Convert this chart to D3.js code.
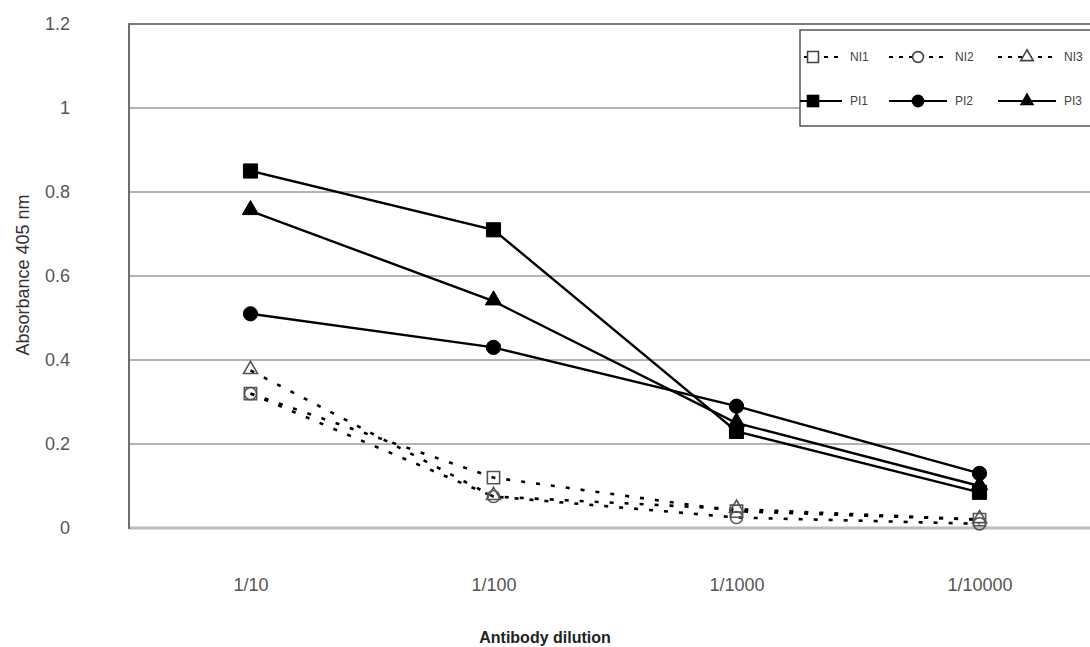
<!DOCTYPE html>
<html>
<head>
<meta charset="utf-8">
<script src="https://cdn.jsdelivr.net/npm/d3@7"></script>
<style>
  body { margin: 0; background: #fff; }
  text { font-family: "Liberation Sans", Arial, sans-serif; }
</style>
</head>
<body>
<script>
// dilutions on the x axis
var dilutions = ["1/10", "1/100", "1/1000", "1/10000"];
var yTicks = [0, 0.2, 0.4, 0.6, 0.8, 1, 1.2];

// absorbance readings, negative sera (dashed) and positive sera (solid)
var ni1 = [0.32, 0.12, 0.04, 0.02];
var ni2 = [0.32, 0.075, 0.025, 0.01];
var ni3 = [0.375, 0.075, 0.045, 0.02];
var pi1 = [0.85, 0.71, 0.23, 0.085];
var pi2 = [0.51, 0.43, 0.29, 0.13];
var pi3 = [0.755, 0.54, 0.25, 0.10];

var seriesNames = ["NI1", "NI2", "NI3", "PI1", "PI2", "PI3"];

var series = [
  {name: "NI1", values: ni1, shape: d3.symbolSquare, open: true},
  {name: "NI2", values: ni2, shape: d3.symbolCircle, open: true},
  {name: "NI3", values: ni3, shape: d3.symbolTriangle, open: true},
  {name: "PI1", values: pi1, shape: d3.symbolSquare, open: false},
  {name: "PI2", values: pi2, shape: d3.symbolCircle, open: false},
  {name: "PI3", values: pi3, shape: d3.symbolTriangle, open: false}
];

var width = 1090, height = 647;
var mLeft = 129, mTop = 24, mRight = 1101, mBottom = 528;

var svg = d3.select("body").append("svg").attr("width", width).attr("height", height);

var x = d3.scalePoint().domain(dilutions).range([mLeft, mRight]).padding(0.5);
var y = d3.scaleLinear().domain([0, 1.2]).range([mBottom, mTop]);

// gridlines
svg.append("g").selectAll("line.grid")
  .data(yTicks.filter(function(d){ return d > 0 && d < 1.2; }))
  .enter().append("line")
    .attr("class", "grid")
    .attr("x1", mLeft).attr("x2", width)
    .attr("y1", function(d){ return y(d); })
    .attr("y2", function(d){ return y(d); })
    .attr("stroke", "#b4b4b4")
    .attr("stroke-width", 2);

// frame
svg.append("line").attr("x1", mLeft).attr("x2", width).attr("y1", mTop).attr("y2", mTop)
  .attr("stroke", "#7a7a7a").attr("stroke-width", 2);
svg.append("line").attr("x1", mLeft).attr("x2", width).attr("y1", mBottom).attr("y2", mBottom)
  .attr("stroke", "#bdbdbd").attr("stroke-width", 3);
svg.append("line").attr("x1", mLeft).attr("x2", mLeft).attr("y1", mTop - 1).attr("y2", mBottom + 1)
  .attr("stroke", "#6e6e6e").attr("stroke-width", 2);

// y axis labels
var yAxis = d3.axisLeft(y).tickValues(yTicks).tickSize(0).tickPadding(0)
  .tickFormat(function(d){ return d3.format("")(d); });
var yg = svg.append("g").attr("transform", "translate(70,0)").call(yAxis);
yg.select(".domain").remove();
yg.selectAll("text").attr("font-size", 18).attr("fill", "#555").attr("font-family", "Liberation Sans, Arial, sans-serif");

// x axis labels
var xAxis = d3.axisBottom(x).tickSize(0).tickPadding(0);
var xg = svg.append("g").attr("transform", "translate(0,578)").call(xAxis);
xg.select(".domain").remove();
xg.selectAll("text").attr("font-size", 18).attr("fill", "#555").attr("font-family", "Liberation Sans, Arial, sans-serif");

// axis titles
svg.append("text")
  .attr("transform", "translate(29,275) rotate(-90)")
  .attr("text-anchor", "middle")
  .attr("font-size", 18)
  .attr("fill", "#333")
  .text("Absorbance 405 nm");

svg.append("text")
  .attr("x", 545).attr("y", 643)
  .attr("text-anchor", "middle")
  .attr("font-size", 16)
  .attr("font-weight", "bold")
  .attr("fill", "#222")
  .text("Antibody dilution");

// lines
var line = d3.line()
  .x(function(d, i){ return x(dilutions[i]); })
  .y(function(d){ return y(d); });

var plot = svg.append("g");

series.forEach(function(s) {
  plot.append("path")
    .attr("d", line(s.values))
    .attr("fill", "none")
    .attr("stroke", "#000")
    .attr("stroke-width", s.open ? 2.6 : 2.4)
    .attr("stroke-dasharray", s.open ? "4,11" : null);
});

function symbolSize(shape, open, legend) {
  var k = legend ? 0.8 : 1;
  if (shape === d3.symbolSquare) return (open ? 150 : 200) * k;
  if (shape === d3.symbolCircle) return (open ? 115 : 160) * k;
  return (open ? 85 : 115) * k;
}

series.forEach(function(s) {
  plot.selectAll("path.m" + s.name)
    .data(s.values)
    .enter().append("path")
      .attr("class", "m" + s.name)
      .attr("transform", function(d, i){
        var dy = s.shape === d3.symbolTriangle ? -1 : 0;
        return "translate(" + x(dilutions[i]) + "," + (y(d) + dy) + ")";
      })
      .attr("d", d3.symbol().type(s.shape).size(symbolSize(s.shape, s.open, false)))
      .attr("fill", s.open ? "none" : "#000")
      .attr("stroke", s.open ? "#555" : "#000")
      .attr("stroke-width", s.open ? 1.6 : 1);
});

// legend
var lx = 800, ly = 30, lw = 300, lh = 96;
svg.append("defs").append("clipPath").attr("id", "legclip")
  .append("rect").attr("x", lx).attr("y", ly).attr("width", lw).attr("height", lh);

var leg = svg.append("g");
leg.append("rect").attr("x", lx).attr("y", ly).attr("width", lw).attr("height", lh)
  .attr("fill", "#fff").attr("stroke", "#555").attr("stroke-width", 1.5);

var legItems = leg.append("g").attr("clip-path", "url(#legclip)");
var colX = [813, 918, 1027];
var rowY = [57, 101];

series.forEach(function(s, i) {
  var cx = colX[i % 3], cy = rowY[Math.floor(i / 3)];
  var g = legItems.append("g").attr("transform", "translate(" + cx + "," + cy + ")");
  g.append("line")
    .attr("x1", -29).attr("x2", 29).attr("y1", 0).attr("y2", 0)
    .attr("stroke", "#000")
    .attr("stroke-width", s.open ? 1.8 : 2)
    .attr("stroke-dasharray", s.open ? "4,6" : null);
  if (s.open) {
    g.append("path")
      .attr("d", d3.symbol().type(s.shape).size(symbolSize(s.shape, true, true)))
      .attr("fill", "#fff").attr("stroke", "#444").attr("stroke-width", 1.6);
  } else {
    g.append("path")
      .attr("d", d3.symbol().type(s.shape).size(symbolSize(s.shape, false, true)))
      .attr("fill", "#000");
  }
  g.append("text")
    .attr("x", 37).attr("y", 4)
    .attr("font-size", 12)
    .attr("fill", "#444")
    .text(seriesNames[i]);
});
</script>
</body>
</html>
